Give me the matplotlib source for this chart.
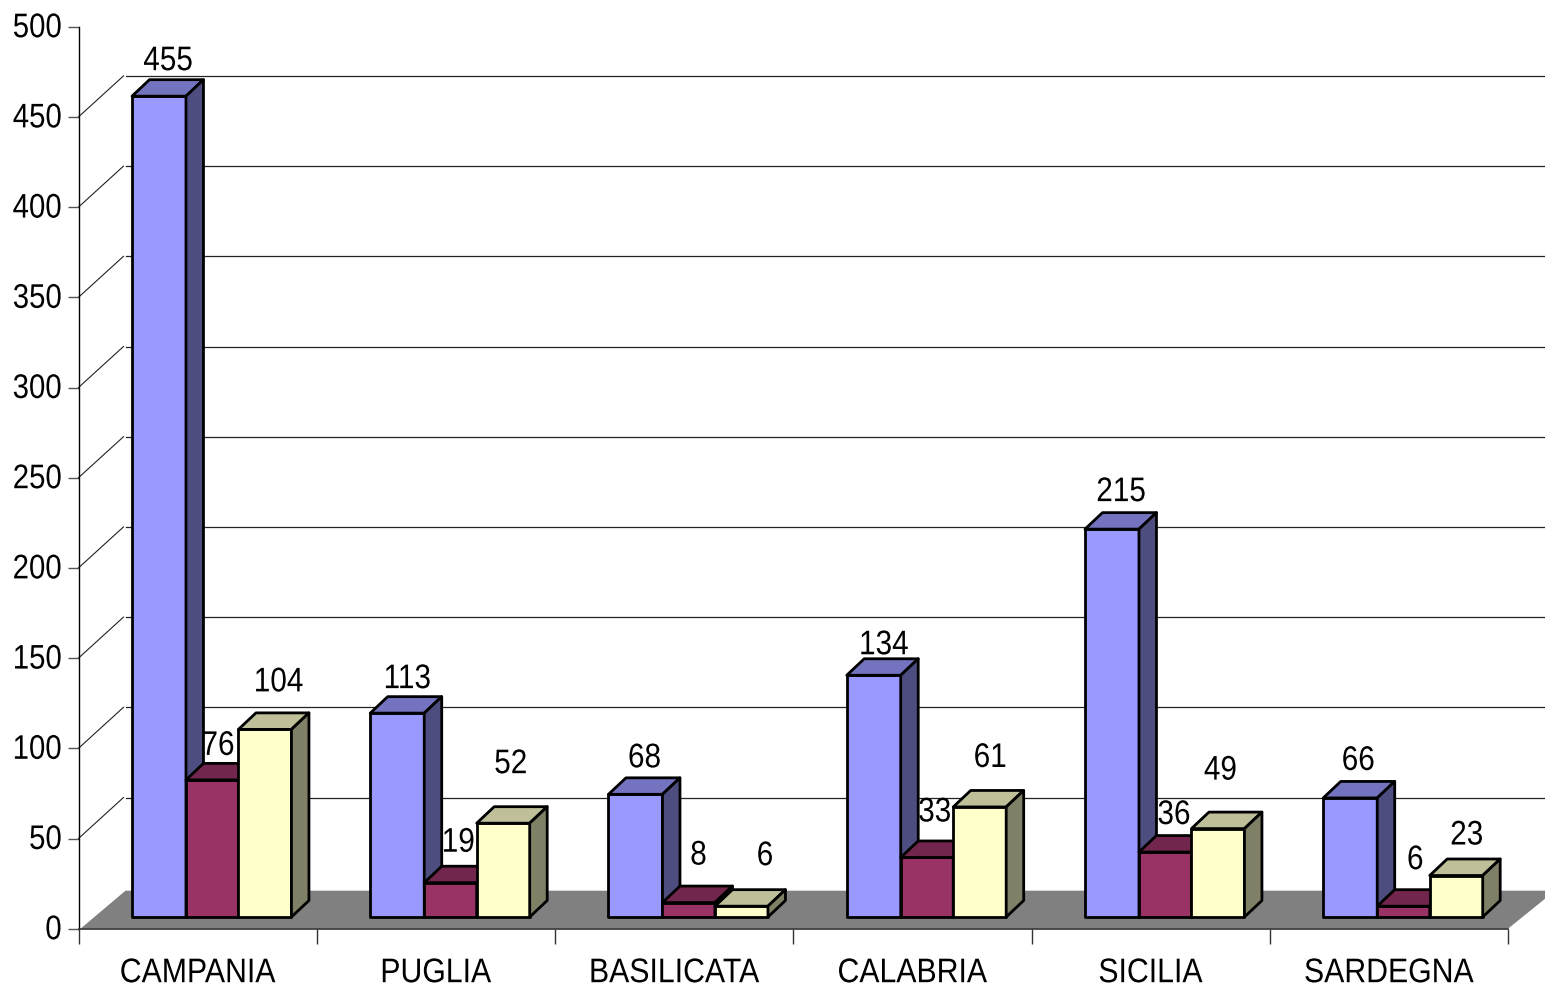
import matplotlib
matplotlib.use("Agg")
import matplotlib.pyplot as plt
from matplotlib.patches import Polygon
from matplotlib.patheffects import AbstractPathEffect
from matplotlib.transforms import Affine2D, IdentityTransform
import numpy as np

regions = ["CAMPANIA", "PUGLIA", "BASILICATA", "CALABRIA", "SICILIA", "SARDEGNA"]
series_a = [455, 113, 68, 134, 215, 66]
series_b = [76, 19, 8, 33, 36, 6]
series_c = [104, 52, 6, 61, 49, 23]
y_ticks = [0, 50, 100, 150, 200, 250, 300, 350, 400, 450, 500]

front_colors = ["#9999FF", "#993366", "#FFFFCC"]
top_colors = ["#7373BF", "#73264D", "#BFBF99"]
side_colors = ["#4D4D80", "#4D1A33", "#808066"]

# Hand placed value labels: pixel offset of each label centre from its bar's front top-left corner
label_dx = [[36, 32, 40], [37, 34, 34], [36, 36, 50], [37, 34, 37], [36, 35, 29], [35, 38, 37]]
label_dy = [[36, 35, 48], [35, 41, 60], [37, 48, 51], [31, 46, 50], [38, 38, 59], [38, 47, 41]]

W, H = 1545, 990
plt.rcParams["font.family"] = ["Liberation Sans"]
text_size = 24.6


class NarrowText(AbstractPathEffect):
    """Squeezes text horizontally about its centre or right edge to get a condensed face."""

    def __init__(self, factor, anchor="center", lift=0.0):
        super().__init__()
        self.factor = factor
        self.anchor = anchor
        self.lift = lift

    def draw_path(self, renderer, gc, tpath, affine, rgbFace=None):
        box = tpath.transformed(affine).get_extents()
        fixed = box.x1 if self.anchor == "right" else 0.5 * (box.x0 + box.x1)
        squeeze = Affine2D().translate(-fixed, self.lift).scale(self.factor, 1).translate(fixed, 0)
        renderer.draw_path(gc, tpath, affine + squeeze, rgbFace)


fig = plt.figure(figsize=(W / 100, H / 100), dpi=100, facecolor="white")
ax = fig.add_axes([78.5 / W, (H - 928.7) / H, (1508 - 78.5) / W, 902 / H])
ax.set_xlim(0, 6)
ax.set_ylim(0, 500)
ax.patch.set_visible(False)
for name in ("top", "right"):
    ax.spines[name].set_visible(False)
ax.spines["left"].set_linewidth(1.0)
ax.spines["bottom"].set_linewidth(1.2)
ax.spines["bottom"].set_color("#333333")
ax.set_zorder(3)

ax.set_yticks(y_ticks)
ax.set_xticks(range(7))
ax.set_xticklabels([])
ax.tick_params(axis="y", length=8, width=1, color="#555555", labelsize=text_size, pad=4)
ax.tick_params(axis="x", length=11, width=1, color="#333333")
for label in ax.get_yticklabels():
    label.set_path_effects([NarrowText(0.86, "right", lift=1.5)])
for i, region in enumerate(regions):
    ax.annotate(region, xy=(i + 0.5, 0), xycoords="data", xytext=(-0.5, -45), textcoords="offset pixels",
                ha="center", va="center", fontsize=text_size, path_effects=[NarrowText(0.885)])


def px(x, y):
    return ax.transData.transform((x, y))


def poly(points, color, z, edge="black", lw=2.0):
    fig.add_artist(Polygon(points, closed=True, facecolor=color, edgecolor=edge, linewidth=lw,
                           joinstyle="round", transform=IdentityTransform(), zorder=z, clip_on=False))


# Pixel depth of the floor, walls and bars
floor_depth = np.array([47.0, 38.0])
wall_depth = np.array([47.0, 41.0])
bar_depth = np.array([17.5, 16.5])
base_lift = 11.7
bar_start = 0.2245
bar_widths = [0.2266, 0.2203, 0.2224]

# Floor
p0, p1 = px(0, 0), px(6, 0)
fig.add_artist(Polygon([p0 + [2, 0], p1, p1 + floor_depth, p0 + floor_depth], closed=True, facecolor="#808080",
                       edgecolor="none", transform=IdentityTransform(), zorder=1))

# Wall gridlines, with the diagonal run on the side wall
for value in y_ticks[1:-1]:
    a = px(0, value)
    b = a + wall_depth
    fig.add_artist(plt.Line2D([a[0], b[0] - 2], [a[1], b[1]], color="#222222", lw=0.8,
                              transform=IdentityTransform(), zorder=1))
    fig.add_artist(plt.Line2D([b[0], W], [b[1], b[1]], color="#222222", lw=0.9,
                              transform=IdentityTransform(), zorder=1))

# Bars, left to right within each group so that later faces cover earlier sides
z = 2.0
for i in range(len(regions)):
    x0 = i + bar_start
    for s, values in enumerate((series_a, series_b, series_c)):
        v = values[i]
        x1 = x0 + bar_widths[s]
        bl = px(x0, 0) + [0, base_lift]
        br = px(x1, 0) + [0, base_lift]
        tl = px(x0, v) + [0, base_lift]
        tr = px(x1, v) + [0, base_lift]
        poly([bl, br, tr, tl], front_colors[s], z)
        poly([tl, tr, tr + bar_depth, tl + bar_depth], top_colors[s], z + 0.01)
        poly([br, br + bar_depth, tr + bar_depth, tr], side_colors[s], z + 0.02)
        z += 0.1
        ax.annotate(str(v), xy=(x0, v), xycoords="data",
                    xytext=(label_dx[i][s], base_lift + label_dy[i][s] - 1.5), textcoords="offset pixels",
                    ha="center", va="center", fontsize=text_size, annotation_clip=False, zorder=20,
                    path_effects=[NarrowText(0.87)])
        x0 = x1

fig.savefig("out.png", dpi=100)
